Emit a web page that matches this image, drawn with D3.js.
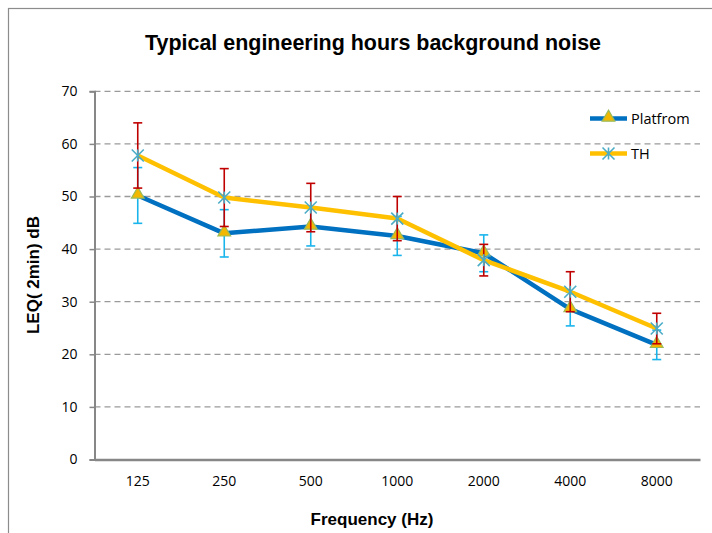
<!DOCTYPE html>
<html>
<head>
<meta charset="utf-8">
<script src="https://cdn.jsdelivr.net/npm/d3@7"></script>
<style>
  body { margin: 0; background: #fff; }
  text { font-family: "Liberation Sans", Arial, sans-serif; }
  .narrow { font-family: "Liberation Sans Narrow", "Arial Narrow", "Liberation Sans", sans-serif; }
</style>
</head>
<body>
<div id="chart"></div>
<script>
// data
var frequencies = ["125", "250", "500", "1000", "2000", "4000", "8000"];
var platfromValues = [50.2, 43.0, 44.3, 42.5, 39.2, 28.6, 21.8];
var platfromErrors = [5.3, 4.5, 3.7, 3.7, 3.5, 3.2, 2.8];
var thValues = [57.8, 49.8, 47.9, 45.8, 37.9, 31.9, 24.9];
var thErrors = [6.2, 5.5, 4.6, 4.2, 3.0, 3.8, 2.9];
var yTicks = [0, 10, 20, 30, 40, 50, 60, 70];

var width = 712, height = 533;
var margin = {top: 91.3, right: 12, bottom: 73.5, left: 94.5};

var svg = d3.select("#chart")
  .append("svg")
    .attr("width", width)
    .attr("height", height);

// outer frame
svg.append("rect")
  .attr("x", 8.5).attr("y", 8.5)
  .attr("width", 740).attr("height", 560)
  .attr("fill", "none")
  .attr("stroke", "#8c8c8c")
  .attr("stroke-width", 1.2);

var x = d3.scaleBand()
  .domain(frequencies)
  .range([margin.left, width - margin.right])
  .padding(0);

var y = d3.scaleLinear()
  .domain([0, 70])
  .range([height - margin.bottom, margin.top]);

function cx(d, i) { return x(frequencies[i]) + x.bandwidth() / 2; }

// gridlines
svg.append("g")
  .selectAll("line")
  .data(yTicks.filter(function(t) { return t > 0; }))
  .enter()
  .append("line")
    .attr("x1", margin.left)
    .attr("x2", width - margin.right)
    .attr("y1", function(d) { return y(d); })
    .attr("y2", function(d) { return y(d); })
    .attr("stroke", "#9a9a9a")
    .attr("stroke-width", 1.3)
    .attr("stroke-dasharray", "6,4");

// y axis
var yAxis = svg.append("g")
  .attr("transform", "translate(" + margin.left + ",0)")
  .call(d3.axisLeft(y).tickValues(yTicks).tickSize(5).tickPadding(12));
yAxis.select(".domain").attr("stroke", "#878787").attr("stroke-width", 2);
yAxis.selectAll(".tick line").attr("stroke", "#878787").attr("stroke-width", 1.5);
yAxis.selectAll(".tick text")
  .attr("font-size", 14)
  .attr("fill", "#000")
  .style("font-family", "'Open Sans', sans-serif");

// x axis
var xAxis = svg.append("g")
  .attr("transform", "translate(0," + y(0) + ")")
  .call(d3.axisBottom(x).tickSize(0).tickPadding(17));
xAxis.select(".domain").attr("stroke", "#878787").attr("stroke-width", 2.5);
xAxis.selectAll(".tick text")
  .attr("font-size", 14)
  .attr("fill", "#000")
  .style("font-family", "'Open Sans', sans-serif");

var line = d3.line()
  .x(function(d, i) { return cx(d, i); })
  .y(function(d) { return y(d); });

function errorBars(values, errors, color) {
  var g = svg.append("g").attr("stroke", color).attr("stroke-width", 1.6);
  values.forEach(function(v, i) {
    var px = cx(v, i);
    var top = y(v + errors[i]), bot = y(v - errors[i]);
    g.append("line").attr("x1", px).attr("x2", px).attr("y1", top).attr("y2", bot);
    g.append("line").attr("x1", px - 4.5).attr("x2", px + 4.5).attr("y1", top).attr("y2", top);
    g.append("line").attr("x1", px - 4.5).attr("x2", px + 4.5).attr("y1", bot).attr("y2", bot);
  });
}

var triangle = d3.symbol().type(d3.symbolTriangle).size(70);

function triangleMark(g, px, py) {
  g.append("path")
    .attr("d", triangle())
    .attr("transform", "translate(" + px + "," + (py - 1) + ")")
    .attr("fill", "#f2b800")
    .attr("stroke", "#9bbb59")
    .attr("stroke-width", 1.2);
}

function starMark(g, px, py) {
  var r = 6;
  var s = g.append("g").attr("transform", "translate(" + px + "," + py + ")")
    .attr("stroke", "#4bacc6").attr("stroke-width", 1.6);
  s.append("line").attr("x1", -r).attr("x2", r).attr("y1", -r).attr("y2", r);
  s.append("line").attr("x1", -r).attr("x2", r).attr("y1", r).attr("y2", -r);
  s.append("line").attr("x1", 0).attr("x2", 0).attr("y1", -r).attr("y2", r);
}

// Platfrom series
svg.append("path")
  .datum(platfromValues)
  .attr("d", line)
  .attr("fill", "none")
  .attr("stroke", "#0070c0")
  .attr("stroke-width", 4.5)
  .attr("stroke-linejoin", "round");
errorBars(platfromValues, platfromErrors, "#1ab4ec");
var pMarks = svg.append("g");
platfromValues.forEach(function(v, i) { triangleMark(pMarks, cx(v, i), y(v)); });

// TH series
svg.append("path")
  .datum(thValues)
  .attr("d", line)
  .attr("fill", "none")
  .attr("stroke", "#ffc000")
  .attr("stroke-width", 4.5)
  .attr("stroke-linejoin", "round");
errorBars(thValues, thErrors, "#c00000");
var tMarks = svg.append("g");
thValues.forEach(function(v, i) { starMark(tMarks, cx(v, i), y(v)); });

// legend
var legend = svg.append("g");
[["Platfrom", "#0070c0", 118.5], ["TH", "#ffc000", 153.5]].forEach(function(item, i) {
  legend.append("line")
    .attr("x1", 590).attr("x2", 627)
    .attr("y1", item[2]).attr("y2", item[2])
    .attr("stroke", item[1]).attr("stroke-width", 4.5);
  if (i === 0) triangleMark(legend, 608.5, item[2]);
  else starMark(legend, 608.5, item[2]);
  legend.append("text")
    .attr("x", 631).attr("y", item[2] + 5)
    .attr("font-size", 14.5)
    .style("font-family", "'Open Sans', sans-serif")
    .text(item[0]);
});

// titles
svg.append("text")
  .attr("class", "narrow")
  .attr("x", 373).attr("y", 50)
  .attr("text-anchor", "middle")
  .attr("font-size", 22)
  .attr("font-weight", "bold")
  .attr("textLength", 456)
  .attr("lengthAdjust", "spacingAndGlyphs")
  .text("Typical engineering hours background noise");

svg.append("text")
  .attr("class", "narrow")
  .attr("x", 372).attr("y", 525)
  .attr("text-anchor", "middle")
  .attr("font-size", 17)
  .attr("font-weight", "bold")
  .text("Frequency (Hz)");

svg.append("text")
  .attr("class", "narrow")
  .attr("transform", "translate(39,275) rotate(-90)")
  .attr("text-anchor", "middle")
  .attr("font-size", 17)
  .attr("font-weight", "bold")
  .text("LEQ( 2min) dB");
</script>
</body>
</html>
